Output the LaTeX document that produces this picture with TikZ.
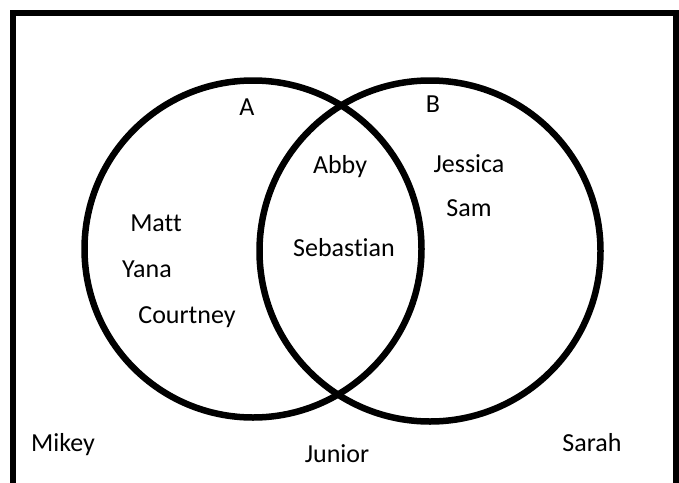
\documentclass[tikz,border=0pt]{standalone}
\usepackage{fontspec}
\setmainfont[Ligatures={NoCommon}]{Carlito}
\begin{document}
\begin{tikzpicture}[x=1pt,y=-1pt,
  setline/.style={draw=black,line width=6.5pt},
  lbl/.style={anchor=base,inner sep=0pt,font=\fontsize{26}{31}\selectfont}]
\useasboundingbox (0,0) rectangle (679,482);
\begin{scope}
\clip (0,0) rectangle (679,482);
\draw[setline] (13,13) rectangle (676,500);
\end{scope}
\draw[setline] (253,249) circle[radius=168.5];
\draw[setline] (430,251) circle[radius=170.5];
\node[lbl] (a) at (247,115) {A};
\node[lbl] (b) at (433,112) {B};
\node[lbl] (abby) at (340,173) {Abby};
\node[lbl] (jessica) at (469,172) {Jessica};
\node[lbl] (sam) at (469,216) {Sam};
\node[lbl] (matt) at (156,231) {Matt};
\node[lbl] (yana) at (147,277) {Yana};
\node[lbl] (courtney) at (187,323) {Courtney};
\node[lbl] (sebastian) at (344,256) {Sebastian};
\node[lbl] (mikey) at (63,451) {Mikey};
\node[lbl] (junior) at (337,462) {Junior};
\node[lbl] (sarah) at (592,451) {Sarah};
\end{tikzpicture}
\end{document}
